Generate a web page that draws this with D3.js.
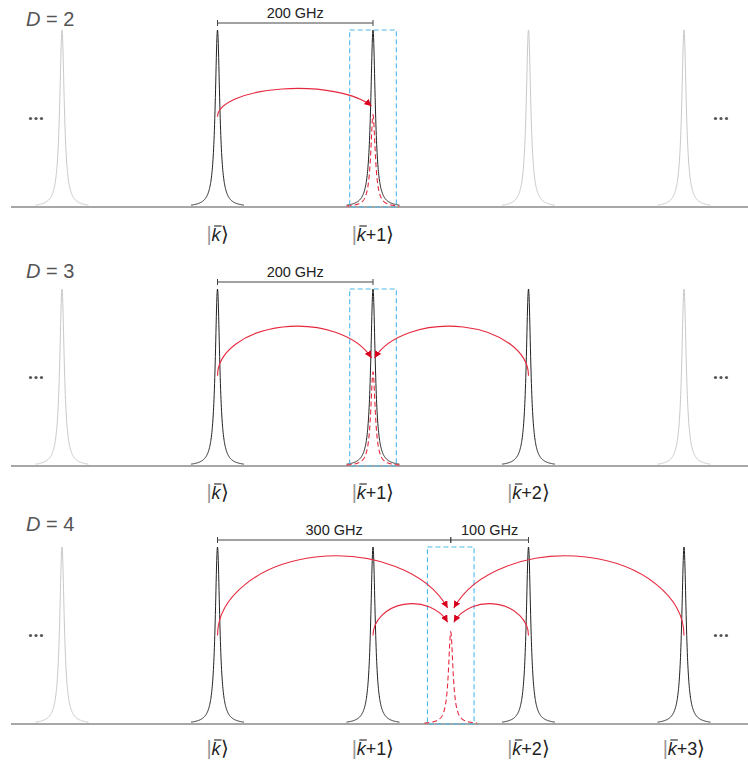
<!DOCTYPE html>
<html>
<head>
<meta charset="utf-8">
<script src="https://cdn.jsdelivr.net/npm/d3@7"></script>
<style>
  body { margin: 0; background: #fff; }
  text { font-family: "Liberation Sans", Arial, sans-serif; }
</style>
</head>
<body>
<script>
// chart data
var dims = [2, 3, 4];
var modeFreqs = [-200, 0, 200, 400, 600];            // GHz, relative to mode k
var activeModes = [[0, 200], [0, 200, 400], [0, 200, 400, 600]];
var modeSuffix = ["", "+1", "+2", "+3"];
var targetFreqs = [200, 200, 300];
var targetAmps = [0.52, 0.53, 0.52];
// arcs: [source GHz, end GHz, start amp, end amp, apex amp]
var arcsD2 = [[0, 198, 0.51, 0.57, 0.67]];
var arcsD3 = [[0, 198, 0.51, 0.61, 0.79], [400, 202, 0.51, 0.61, 0.79]];
var arcsD4 = [[0, 296, 0.50, 0.655, 0.95], [600, 304, 0.50, 0.655, 0.95],
              [200, 296, 0.50, 0.575, 0.68], [400, 304, 0.50, 0.575, 0.68]];
var panelArcs = [arcsD2, arcsD3, arcsD4];
// brackets: [from GHz, to GHz, label]
var bracketsD2 = [[0, 200, "200 GHz"]];
var bracketsD3 = [[0, 200, "200 GHz"]];
var bracketsD4 = [[0, 300, "300 GHz"], [300, 400, "100 GHz"]];
var panelBrackets = [bracketsD2, bracketsD3, bracketsD4];
var linewidth = 3.5;      // Lorentzian half width, GHz
var boxHalf = 30;         // GHz
var dotAmp = 0.5;

// layout
var W = 748, H = 763;
var baselines = [207, 466, 724];
var titleY = [26, 278, 531];
var labelOffset = [34, 33, 31];
var peakHeight = 177;
var red = "#e6283e", blue = "#4cb9ea";

var svg = d3.select("body").append("svg")
    .attr("width", W).attr("height", H);

var x = d3.scaleLinear().domain([-200, 600]).range([62, 684]);

svg.append("defs").append("marker")
    .attr("id", "arrow")
    .attr("markerUnits", "userSpaceOnUse")
    .attr("viewBox", "0 0 10 10")
    .attr("refX", 10).attr("refY", 5)
    .attr("markerWidth", 7).attr("markerHeight", 7)
    .attr("orient", "auto")
  .append("path")
    .attr("d", "M0,0 L10,5 L0,10 Z")
    .attr("fill", "#d8001c");

// lorentzian line shape around a centre frequency
function peakPoints(fc, amp) {
    var pts = [];
    for (var f = fc - 34; f <= fc + 34; f += 0.25) {
        var u = (f - fc) / linewidth;
        pts.push([f, amp / (1 + u * u)]);
    }
    return pts;
}

// elliptical arc from source (vertical start) to target
function arcPath(x0, y0, x1, y1, yApex) {
    var ry = y0 - yApex;
    var dy = y0 - y1;
    var s = Math.sqrt(Math.max(0, 1 - (dy / ry) * (dy / ry)));
    var rx = Math.abs(x1 - x0) / (1 + s);
    var sweep = x1 > x0 ? 1 : 0;
    return "M" + x0 + "," + y0 + " A" + rx + "," + ry + " 0 0 " + sweep + " " + x1 + "," + y1;
}

dims.forEach(function(D, p) {
    var base = baselines[p];
    var y = d3.scaleLinear().domain([0, 1]).range([base, base - peakHeight]);
    var g = svg.append("g");
    var line = d3.line().x(function(d) { return x(d[0]); }).y(function(d) { return y(d[1]); });

    // baseline
    g.append("line")
        .attr("x1", 11).attr("x2", W)
        .attr("y1", y(0)).attr("y2", y(0))
        .attr("stroke", "#8a8a8a").attr("stroke-width", 1.3);

    // comb modes
    g.selectAll(".mode")
        .data(modeFreqs)
        .enter().append("path")
        .attr("class", "mode")
        .attr("d", function(f) { return line(peakPoints(f, 1)); })
        .attr("fill", "none")
        .attr("stroke", function(f) { return activeModes[p].indexOf(f) >= 0 ? "#222" : "#c9c9c9"; })
        .attr("stroke-width", 1);

    // generated mode (dashed)
    g.append("path")
        .attr("d", line(peakPoints(targetFreqs[p], targetAmps[p])))
        .attr("fill", "none")
        .attr("stroke", red)
        .attr("stroke-width", 1.1)
        .attr("stroke-dasharray", "5,3");

    // blue dashed box
    g.append("rect")
        .attr("x", x(targetFreqs[p] - boxHalf))
        .attr("y", y(1))
        .attr("width", x(targetFreqs[p] + boxHalf) - x(targetFreqs[p] - boxHalf))
        .attr("height", y(0) - y(1))
        .attr("fill", "none")
        .attr("stroke", blue)
        .attr("stroke-width", 1.1)
        .attr("stroke-dasharray", "5,3");

    // arcs
    g.selectAll(".arc")
        .data(panelArcs[p])
        .enter().append("path")
        .attr("class", "arc")
        .attr("d", function(a) {
            return arcPath(x(a[0]), y(a[2]), x(a[1]), y(a[3]), y(a[4]));
        })
        .attr("fill", "none")
        .attr("stroke", red)
        .attr("stroke-width", 1.1)
        .attr("marker-end", "url(#arrow)");

    // brackets
    var by = y(1) - 7;
    panelBrackets[p].forEach(function(b) {
        g.append("line")
            .attr("x1", x(b[0])).attr("x2", x(b[1]))
            .attr("y1", by).attr("y2", by)
            .attr("stroke", "#444").attr("stroke-width", 1);
        [b[0], b[1]].forEach(function(f) {
            g.append("line")
                .attr("x1", x(f)).attr("x2", x(f))
                .attr("y1", by - 3).attr("y2", by + 3)
                .attr("stroke", "#444").attr("stroke-width", 1);
        });
        g.append("text")
            .attr("x", (x(b[0]) + x(b[1])) / 2)
            .attr("y", by - 5)
            .attr("text-anchor", "middle")
            .attr("font-size", 14.5)
            .attr("fill", "#222")
            .text(b[2]);
    });

    // panel title
    var title = g.append("text")
        .attr("x", 26).attr("y", titleY[p])
        .attr("font-size", 20)
        .attr("fill", "#555");
    title.append("tspan").attr("font-style", "italic").text("D");
    title.append("tspan").text(" = " + D);

    // ellipsis dots
    [36, 721].forEach(function(cx) {
        g.selectAll(null)
            .data([-5.5, 0, 5.5])
            .enter().append("circle")
            .attr("cx", function(d) { return cx + d; })
            .attr("cy", y(dotAmp))
            .attr("r", 1.6)
            .attr("fill", "#555");
    });

    // ket labels
    var ly = y(0) + labelOffset[p];
    activeModes[p].forEach(function(f, i) {
        var t = g.append("text")
            .attr("x", x(f))
            .attr("y", ly)
            .attr("text-anchor", "middle")
            .attr("font-size", 18)
            .attr("fill", "#222");
        t.append("tspan").attr("fill", "#999").attr("font-size", 20).text("|");
        t.append("tspan").attr("font-style", "italic").text("k");
        t.append("tspan").text(modeSuffix[i]);
        t.append("tspan").attr("font-family", "DejaVu Sans").attr("font-size", 20)
            .attr("font-weight", 200).text("\u27E9");
        // overbar on k
        var ext = t.node().getExtentOfChar(1);
        g.append("line")
            .attr("x1", ext.x + 2.5).attr("x2", ext.x + ext.width + 1)
            .attr("y1", ly - 15).attr("y2", ly - 15)
            .attr("stroke", "#222").attr("stroke-width", 1.1);
    });
});
</script>
</body>
</html>
